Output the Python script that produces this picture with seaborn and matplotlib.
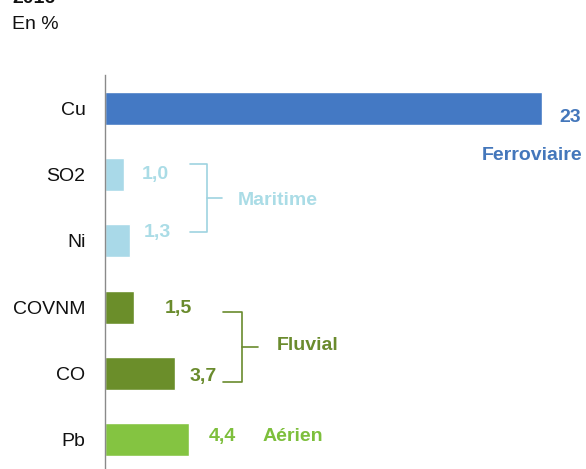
import matplotlib
matplotlib.use("Agg")
import matplotlib.pyplot as plt
import seaborn as sns
import pandas as pd

# data
polluants = ["Cu", "SO2", "Ni", "COVNM", "CO", "Pb"]
parts = [23, 1.0, 1.3, 1.5, 3.7, 4.4]
etiquettes = ["23", "1,0", "1,3", "1,5", "3,7", "4,4"]
couleurs = ["#4479C4", "#A9D9E8", "#A9D9E8", "#6B8E2A", "#6B8E2A", "#84C441"]
couleurs_txt = ["#4477BB", "#AADCE6", "#AADCE6", "#6A8B2D", "#6A8B2D", "#7DBF3C"]

# label placement (x offset after the bar end, y offset from the row)
dx = [1.5, 1.63, 1.44, 2.34, 1.46, 1.8]
dy = [0.14, 0.0, -0.13, 0.02, 0.04, -0.05]

df = pd.DataFrame({"polluant": polluants, "part": parts})

sns.set_style("white")
plt.rcParams["font.family"] = ["Liberation Sans", "DejaVu Sans"]

fig = plt.figure(figsize=(5.86, 4.69), dpi=100)
ax = fig.add_axes([105 / 586, -0.0085, 475 / 586, 0.84 + 0.0085])

sns.barplot(data=df, x="part", y="polluant", hue="polluant",
            palette=couleurs, legend=False, width=0.5, saturation=1, ax=ax)

ax.set_xlim(0, 25)
ax.set_ylim(5.5, -0.5)
ax.set_xlabel("")
ax.set_ylabel("")
ax.set_xticks([])
for s in ["top", "right", "bottom"]:
    ax.spines[s].set_visible(False)
ax.spines["left"].set_color("#8a8a8a")
ax.spines["left"].set_linewidth(1.0)

ax.tick_params(axis="y", which="major", length=0, labelsize=14, pad=14,
               labelcolor="#111111")
ax.set_yticks([i + 0.5 for i in range(-1, 6)], minor=True)
ax.tick_params(axis="y", which="minor", length=4, color="#8a8a8a", direction="out")

# value labels
for i, (v, t) in enumerate(zip(parts, etiquettes)):
    ax.text(v + dx[i], i + dy[i], t, ha="center", va="center",
            fontsize=14, fontweight="bold", color=couleurs_txt[i])

# mode labels
ax.text(22.5, 0.71, "Ferroviaire", ha="center", va="center",
        fontsize=14, fontweight="bold", color=couleurs_txt[0])
ax.text(7.0, 1.39, "Maritime", ha="left", va="center",
        fontsize=14, fontweight="bold", color=couleurs_txt[1])
ax.text(9.05, 3.58, "Fluvial", ha="left", va="center",
        fontsize=14, fontweight="bold", color=couleurs_txt[3])
ax.text(8.3, 4.95, "Aérien", ha="left", va="center",
        fontsize=14, fontweight="bold", color=couleurs_txt[5])


def accolade(x0, x1, xt, y0, y1, col):
    ym = (y0 + y1) / 2
    ax.plot([x0, x1, x1, x1, x1, x0], [y0, y0, ym, ym, y1, y1],
            color=col, lw=1.2, clip_on=False)
    ax.plot([x1, xt], [ym, ym], color=col, lw=1.2, clip_on=False)


accolade(4.47, 5.37, 6.16, 0.845, 1.87, "#9ED3E0")
accolade(6.21, 7.21, 8.05, 3.08, 4.13, "#6A8B2D")

fig.text(12 / 586, 1 - 3 / 469, "2016", fontsize=14, fontweight="bold",
         va="baseline", ha="left", color="#111111")
fig.text(12 / 586, 1 - 29 / 469, "En %", fontsize=14,
         va="baseline", ha="left", color="#111111")

fig.savefig("out.png", dpi=100)
